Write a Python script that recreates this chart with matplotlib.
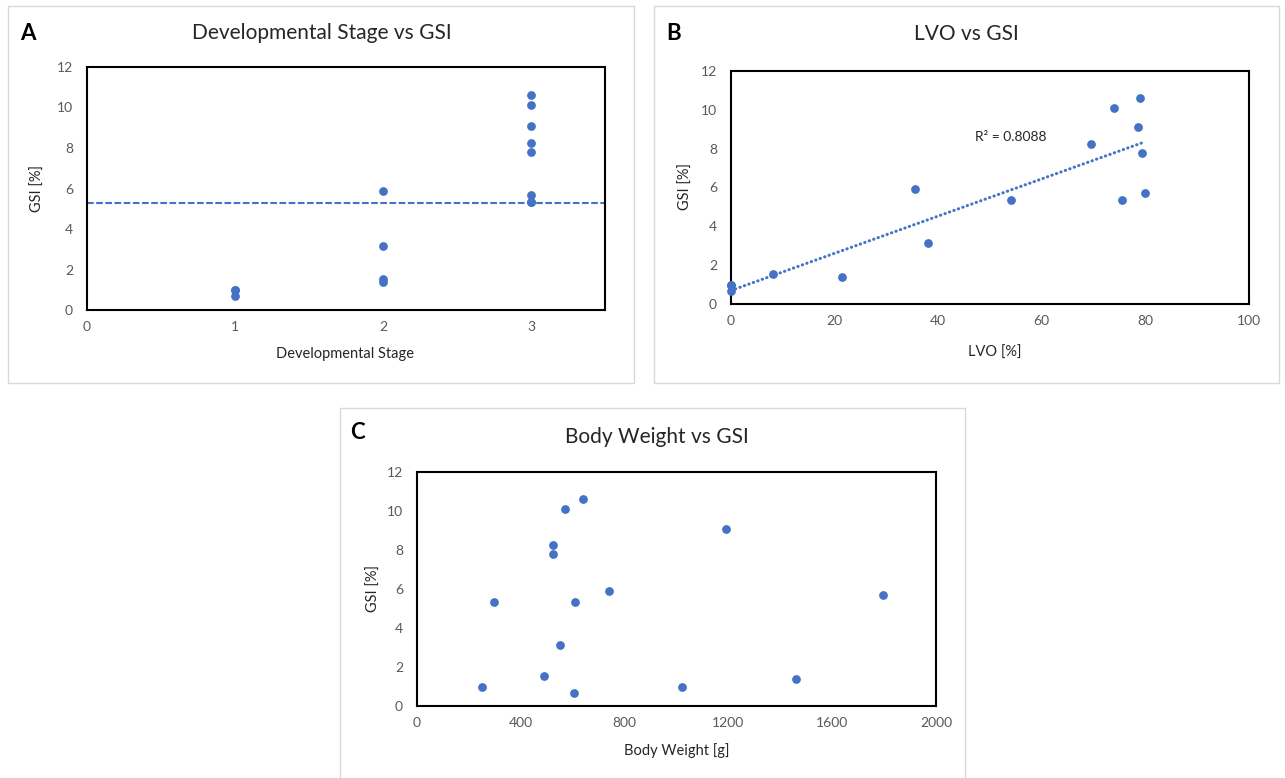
import numpy as np
import matplotlib
matplotlib.use("Agg")
import matplotlib.pyplot as plt
from matplotlib.patches import Rectangle

plt.rcParams['font.family'] = ['Lato', 'DejaVu Sans']

# Per-fish measurements
stage = [1, 1, 1, 2, 2, 2, 2, 3, 3, 3, 3, 3, 3, 3, 3]
gsi = [0.98, 0.98, 0.68, 1.52, 1.40, 5.90, 3.15, 5.35, 5.35, 8.25, 10.10, 9.10, 10.60, 7.78, 5.70]
lvo = [0.0, 0.0, 0.0, 8.2, 21.5, 35.5, 38.0, 54.0, 75.5, 69.5, 74.0, 78.5, 79.0, 79.3, 80.0]
body_weight = [250, 1020, 605, 490, 1460, 740, 550, 295, 610, 525, 570, 1190, 640, 525, 1795]

gsi_threshold = 5.3
r2_label = "R² = 0.8088"

stage_ticks = [0, 1, 2, 3]
lvo_ticks = [0, 20, 40, 60, 80, 100]
bw_ticks = [0, 400, 800, 1200, 1600, 2000]
gsi_ticks = [0, 2, 4, 6, 8, 10, 12]

BLUE = "#4472C4"
TICK_GRAY = "#595959"
TEXT = "#262626"

W, H = 1285, 778
fig = plt.figure(figsize=(W / 100, H / 100), dpi=100)


def px_box(left, top, right, bottom):
    return [left / W, 1 - bottom / H, (right - left) / W, (bottom - top) / H]


def fx(x):
    return x / W


def fy(y):
    return 1 - y / H


# light panel frames
for (l, t, r, b) in [(8, 6, 634, 383), (654, 6, 1279, 383), (340, 408, 965, 790)]:
    fig.patches.append(Rectangle((fx(l), fy(b)), (r - l) / W, (b - t) / H,
                                 transform=fig.transFigure, fill=False,
                                 edgecolor="#D9D9D9", linewidth=1.0))


def style_axes(ax, xticks, xlim):
    ax.set_xlim(*xlim)
    ax.set_ylim(0, 12)
    ax.set_xticks(xticks)
    ax.set_yticks(gsi_ticks)
    ax.tick_params(length=0, labelsize=10, labelcolor=TICK_GRAY)
    ax.tick_params(axis='y', pad=10)
    ax.tick_params(axis='x', pad=8)
    for s in ax.spines.values():
        s.set_linewidth(1.5)
        s.set_color("black")


def pts(ax, x, y):
    ax.plot(x, y, 'o', color=BLUE, markersize=6.3, markeredgewidth=0, clip_on=False, zorder=3)


# A: developmental stage
axA = fig.add_axes(px_box(87, 67, 605, 310))
style_axes(axA, stage_ticks, (0, 3.5))
pts(axA, stage, gsi)
axA.axhline(gsi_threshold, color=BLUE, linewidth=1.5, linestyle=(0, (3.2, 1.2)), zorder=2)

# B: LVO with linear trend
axB = fig.add_axes(px_box(731, 71, 1249, 304))
style_axes(axB, lvo_ticks, (0, 100))
pts(axB, lvo, gsi)
slope, intercept = np.polyfit(lvo, gsi, 1)
xs = np.array([0.0, max(lvo)])
axB.plot(xs, slope * xs + intercept, color=BLUE, linewidth=2.2,
         linestyle=(0, (0.1, 1.45)), dash_capstyle='round', zorder=2)
axB.text(54, 8.6, r2_label, fontsize=10, color=TEXT, ha='center', va='center')

# C: body weight
axC = fig.add_axes(px_box(417, 472, 936, 706))
style_axes(axC, bw_ticks, (0, 2000))
pts(axC, body_weight, gsi)

# titles, panel letters and axis labels
titles = [("Developmental Stage vs GSI", 322, 33), ("LVO vs GSI", 966, 34), ("Body Weight vs GSI", 657, 437)]
for t, x, y in titles:
    fig.text(fx(x), fy(y), t, fontsize=15, color=TEXT, ha='center', va='center')

letters = [("A", 28, 34), ("B", 674, 34), ("C", 357, 432)]
for t, x, y in letters:
    fig.text(fx(x), fy(y), t, fontsize=16, fontweight='bold', color="black", ha='center', va='center')

xlabels = [("Developmental Stage", 345, 354), ("LVO [%]", 995, 353), ("Body Weight [g]", 677, 751)]
for t, x, y in xlabels:
    fig.text(fx(x), fy(y), t, fontsize=10.5, color=TEXT, ha='center', va='center')

ylabels = [(38, 188), (686, 187), (374, 588)]
for x, y in ylabels:
    fig.text(fx(x), fy(y), "GSI [%]", fontsize=10.5, color=TEXT, ha='center', va='center', rotation=90)

fig.savefig("out.png", dpi=100, facecolor="white")
